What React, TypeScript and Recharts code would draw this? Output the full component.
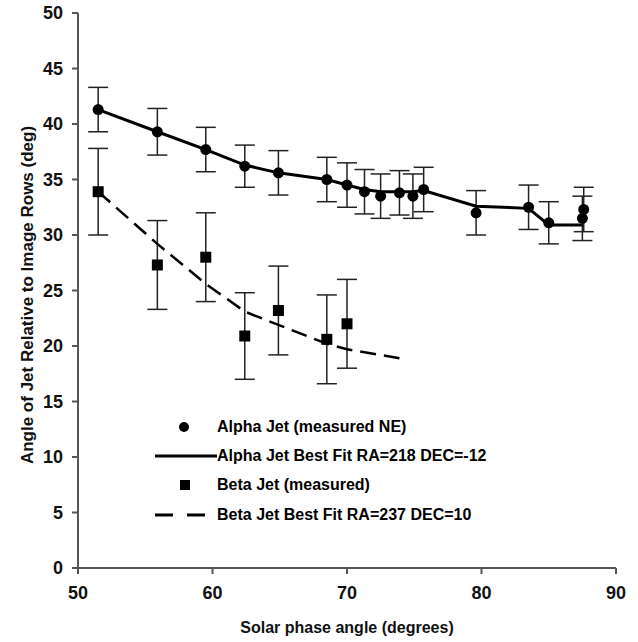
import { ScatterChart, Scatter, XAxis, YAxis, ErrorBar, Legend, Label } from 'recharts';

// measured alpha jet angles (deg) vs solar phase angle
const alphaX = [51.5, 55.9, 59.5, 62.4, 64.9, 68.5, 70.0, 71.3, 72.5, 73.9, 74.9, 75.7, 79.6, 83.5, 85.0, 87.6, 87.5];
const alphaY = [41.3, 39.3, 37.7, 36.2, 35.6, 35.0, 34.5, 33.9, 33.5, 33.8, 33.5, 34.1, 32.0, 32.5, 31.1, 32.3, 31.5];
const alphaErr = [2.0, 2.1, 2.0, 1.9, 2.0, 2.0, 2.0, 2.0, 2.0, 2.0, 2.0, 2.0, 2.0, 2.0, 1.9, 2.0, 2.0];

// alpha best fit
const alphaFitX = [51.5, 55.9, 59.5, 62.4, 64.9, 68.5, 70.0, 71.3, 72.5, 73.9, 74.9, 75.7, 79.6, 83.5, 85.0, 87.5];
const alphaFitY = [41.3, 39.3, 37.7, 36.3, 35.6, 35.0, 34.5, 34.1, 33.9, 33.9, 33.9, 34.0, 32.6, 32.4, 30.9, 30.9];

// measured beta jet
const betaX = [51.5, 55.9, 59.5, 62.4, 64.9, 68.5, 70.0];
const betaY = [33.9, 27.3, 28.0, 20.9, 23.2, 20.6, 22.0];
const betaErr = [3.9, 4.0, 4.0, 3.9, 4.0, 4.0, 4.0];

// beta best fit
const betaFitX = [51.5, 55.9, 59.5, 62.4, 64.9, 68.5, 70.0, 73.9];
const betaFitY = [33.9, 29.2, 25.6, 23.1, 21.9, 20.2, 19.7, 18.9];

const xTicks = [50, 60, 70, 80, 90];
const yTicks = [0, 5, 10, 15, 20, 25, 30, 35, 40, 45, 50];

const legendItems = [
  { name: 'Alpha Jet (measured NE)', icon: 'circle' },
  { name: 'Alpha Jet Best Fit RA=218 DEC=-12', icon: 'line' },
  { name: 'Beta Jet (measured)', icon: 'square' },
  { name: 'Beta Jet Best Fit RA=237 DEC=10', icon: 'dash' },
];

const alpha = alphaX.map((x, i) => ({ x, y: alphaY[i], err: alphaErr[i] }));
const alphaFit = alphaFitX.map((x, i) => ({ x, y: alphaFitY[i] }));
const beta = betaX.map((x, i) => ({ x, y: betaY[i], err: betaErr[i] }));
const betaFit = betaFitX.map((x, i) => ({ x, y: betaFitY[i] }));

const FONT = '"Liberation Sans", Arial, sans-serif';
const tickStyle = { fontSize: 18, fontWeight: 'bold', fill: '#111', fontFamily: FONT };

const Dot = (p: any) => <circle cx={p.cx} cy={p.cy} r={5.5} fill="#000" />;
const Square = (p: any) => <rect x={p.cx - 5.5} y={p.cy - 5.5} width={11} height={11} fill="#000" />;
const NoShape = () => <g />;

const LegendBox = () => (
  <div style={{ fontFamily: FONT, fontWeight: 'bold', fontSize: 16, color: '#000' }}>
    {legendItems.map((it) => (
      <div key={it.name} style={{ display: 'flex', alignItems: 'center', height: 29.3 }}>
        <svg width={65} height={20} style={{ flex: 'none' }}>
          {it.icon === 'circle' && <circle cx={32} cy={10} r={5} fill="#000" />}
          {it.icon === 'square' && <rect x={28} y={5} width={10} height={10} fill="#000" />}
          {it.icon === 'line' && <line x1={3} y1={10} x2={65} y2={10} stroke="#000" strokeWidth={3} />}
          {it.icon === 'dash' && (
            <line x1={3} y1={10} x2={53} y2={10} stroke="#000" strokeWidth={3} strokeDasharray="18 14" />
          )}
        </svg>
        <span style={{ whiteSpace: 'nowrap' }}>{it.name}</span>
      </div>
    ))}
  </div>
);

export default function App() {
  return (
    <div style={{ position: 'absolute', left: 0, top: 0, background: '#fff' }}>
      <ScatterChart width={638} height={642} margin={{ top: 13, right: 22, left: 0, bottom: 0 }}>
        <XAxis
          type="number"
          dataKey="x"
          domain={[50, 90]}
          ticks={xTicks}
          allowDataOverflow
          height={74}
          tickSize={6}
          tickMargin={12}
          stroke="#555"
          strokeWidth={2}
          tick={tickStyle}
        >
          <Label
            content={() => (
              <text x={347} y={633} textAnchor="middle" fontFamily={FONT} fontWeight="bold" fontSize={16} fill="#111">
                Solar phase angle (degrees)
              </text>
            )}
          />
        </XAxis>
        <YAxis
          type="number"
          dataKey="y"
          domain={[0, 50]}
          ticks={yTicks}
          width={78}
          tickSize={6}
          tickMargin={9}
          stroke="#555"
          strokeWidth={2}
          tick={tickStyle}
        >
          <Label
            content={() => (
              <text
                x={33}
                y={295}
                transform="rotate(-90 33 295)"
                textAnchor="middle"
                fontFamily={FONT}
                fontWeight="bold"
                fontSize={17}
                fill="#111"
              >
                Angle of Jet Relative to Image Rows (deg)
              </text>
            )}
          />
        </YAxis>
        <Scatter
          data={alphaFit}
          shape={NoShape}
          line={{ stroke: '#000', strokeWidth: 3 }}
          isAnimationActive={false}
          legendType="none"
        />
        <Scatter
          data={betaFit}
          shape={NoShape}
          line={{ stroke: '#000', strokeWidth: 2.5, strokeDasharray: '16 8' }}
          isAnimationActive={false}
          legendType="none"
        />
        <Scatter data={alpha} shape={Dot} isAnimationActive={false}>
          <ErrorBar dataKey="err" direction="y" width={10} stroke="#222" strokeWidth={1.5} />
        </Scatter>
        <Scatter data={beta} shape={Square} isAnimationActive={false}>
          <ErrorBar dataKey="err" direction="y" width={10} stroke="#222" strokeWidth={1.5} />
        </Scatter>
        <Legend
          layout="vertical"
          align="center"
          verticalAlign="middle"
          content={LegendBox}
          wrapperStyle={{ left: 152, top: 412, width: 440, height: 120 }}
        />
      </ScatterChart>
    </div>
  );
}
